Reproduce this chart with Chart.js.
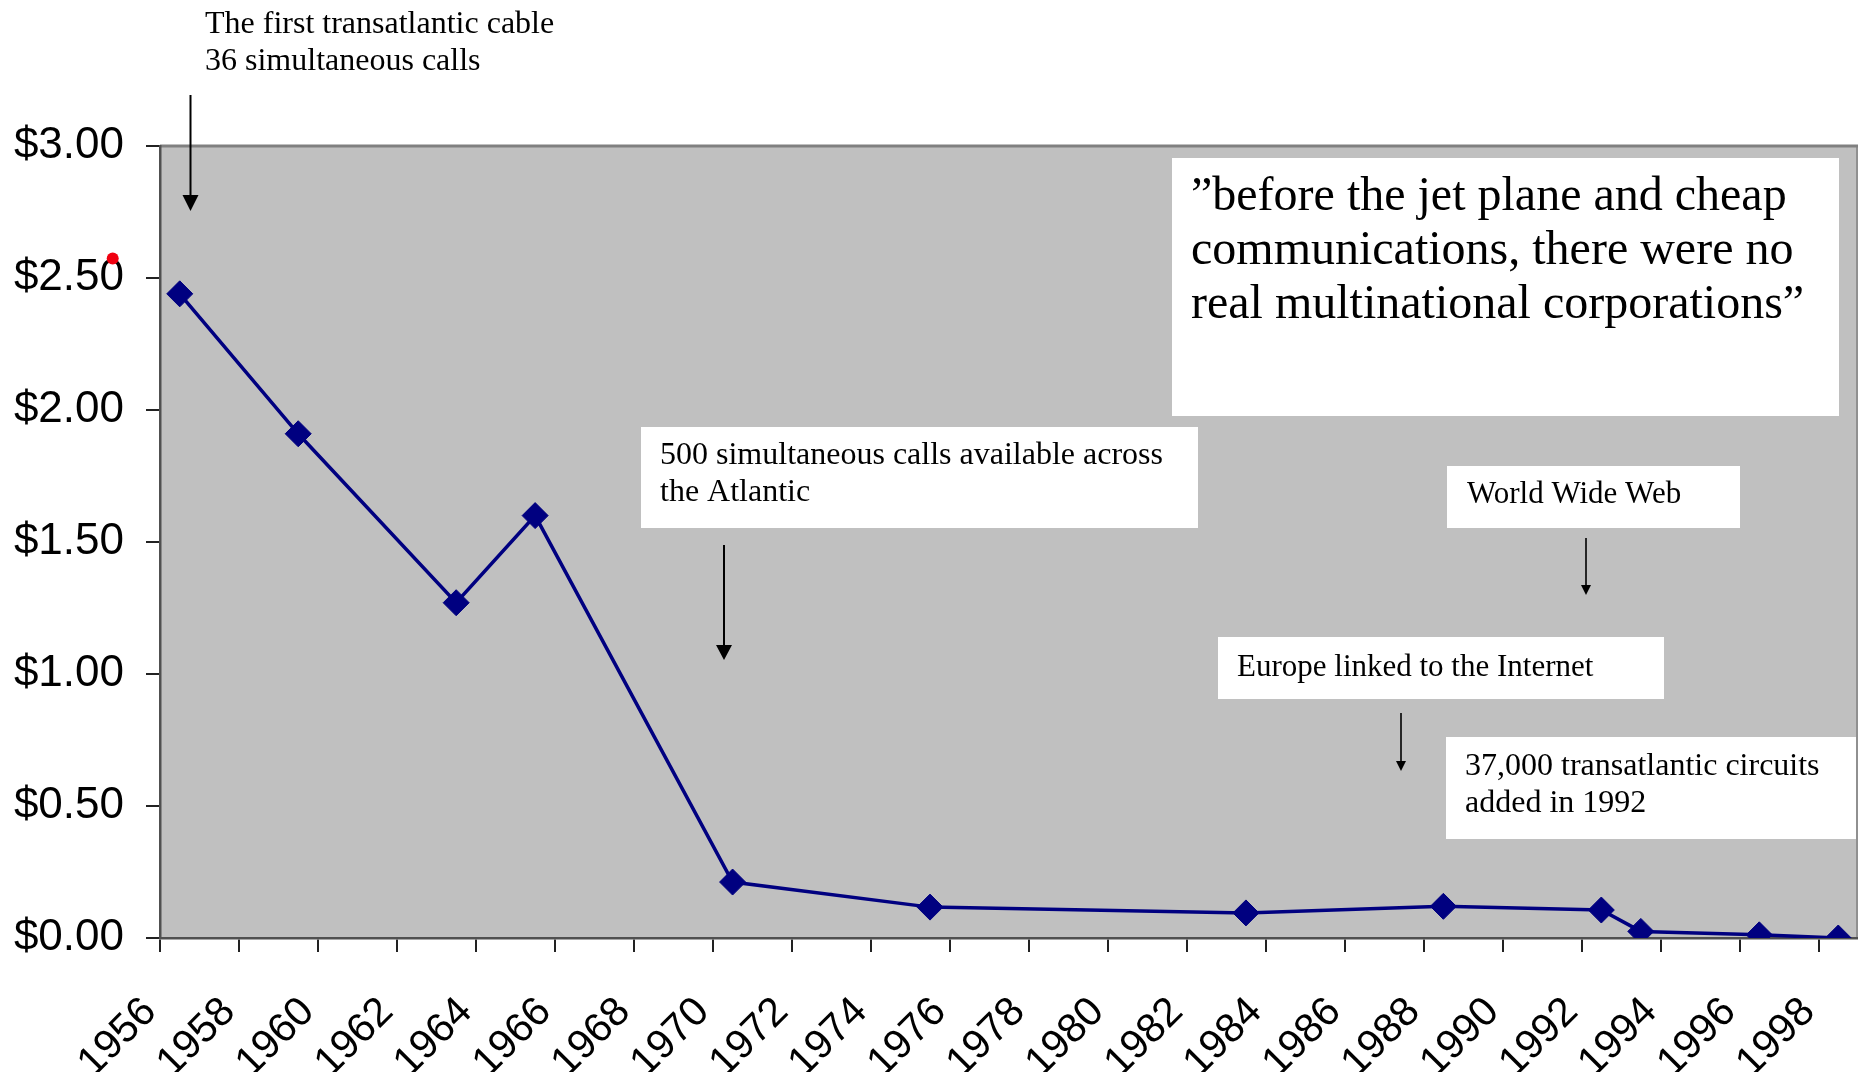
<!DOCTYPE html>
<html lang="en">
<head>
    <meta charset="UTF-8">
    <title>Cost of a transatlantic call</title>
    <script src="https://cdn.jsdelivr.net/npm/chart.js"></script>
    <style>
        html, body { margin: 0; padding: 0; background: #fff; }
        #chart-box { width: 1858px; height: 1072px; }
    </style>
</head>
<body>
    <div id="chart-box"><canvas id="costChart" width="1858" height="1072"></canvas></div>

    <script>
        // cost per call (points sit mid-year)
        const years = [1956.5, 1959.5, 1963.5, 1965.5, 1970.5, 1975.5, 1983.5, 1988.5, 1992.5, 1993.5, 1996.5, 1998.5];
        const costs = [2.44, 1.91, 1.27, 1.60, 0.212, 0.117, 0.095, 0.12, 0.106, 0.025, 0.012, 0.0];

        const xTickYears = [1956, 1958, 1960, 1962, 1964, 1966, 1968, 1970, 1972, 1974, 1976,
                            1978, 1980, 1982, 1984, 1986, 1988, 1990, 1992, 1994, 1996, 1998];
        const yTickValues = [0, 0.5, 1, 1.5, 2, 2.5, 3];

        // text notes and arrows laid over the chart (canvas pixels)
        const notes = [
            { lines: ['The first transatlantic cable', '36 simultaneous calls'], x: 205, y: 33, size: 32, lead: 37 },
            { lines: ['\u201dbefore the jet plane and cheap', 'communications, there were no', 'real multinational corporations\u201d'],
              x: 1191, y: 210, size: 48, lead: 54, box: [1172, 158, 1839, 416] },
            { lines: ['500 simultaneous calls available across', 'the Atlantic'], x: 660, y: 464, size: 32, lead: 37, box: [641, 427, 1198, 528] },
            { lines: ['World Wide Web'], x: 1467, y: 503, size: 31, lead: 37, box: [1447, 466, 1740, 528] },
            { lines: ['Europe linked to the Internet'], x: 1237, y: 676, size: 31, lead: 37, box: [1218, 637, 1664, 699] },
            { lines: ['37,000 transatlantic circuits', 'added in 1992'], x: 1465, y: 775, size: 32, lead: 37, box: [1446, 737, 1856, 839] }
        ];
        const arrows = [
            { x: 190.5, y0: 95, y1: 211, half: 8, len: 16 },
            { x: 724, y0: 545, y1: 660, half: 8, len: 15 },
            { x: 1586, y0: 538, y1: 595, half: 5, len: 10 },
            { x: 1401, y0: 713, y1: 771, half: 5, len: 10 }
        ];

        const plotBackdrop = {
            id: 'plotBackdrop',
            beforeDraw(chart) {
                const { ctx, chartArea: a } = chart;
                ctx.save();
                ctx.fillStyle = '#c0c0c0';
                ctx.fillRect(a.left, a.top, a.right - a.left, a.bottom - a.top);
                ctx.strokeStyle = '#808080';
                ctx.lineWidth = 3;
                ctx.beginPath();
                ctx.moveTo(a.left, a.top);
                ctx.lineTo(a.right, a.top);
                ctx.stroke();
                ctx.lineWidth = 1.5;
                ctx.beginPath();
                ctx.moveTo(a.right - 1, a.top);
                ctx.lineTo(a.right - 1, a.bottom);
                ctx.stroke();
                ctx.restore();
            }
        };

        const noteLayer = {
            id: 'noteLayer',
            afterDraw(chart) {
                const ctx = chart.ctx;
                ctx.save();
                notes.forEach(n => {
                    if (n.box) {
                        ctx.fillStyle = '#fff';
                        ctx.fillRect(n.box[0], n.box[1], n.box[2] - n.box[0], n.box[3] - n.box[1]);
                    }
                    ctx.fillStyle = '#000';
                    ctx.font = n.size + 'px "Liberation Serif", "Times New Roman", serif';
                    ctx.textAlign = 'left';
                    ctx.textBaseline = 'alphabetic';
                    n.lines.forEach((t, i) => ctx.fillText(t, n.x, n.y + i * n.lead));
                });

                ctx.strokeStyle = '#000';
                ctx.fillStyle = '#000';
                arrows.forEach(ar => {
                    ctx.lineWidth = ar.half > 6 ? 2 : 1.6;
                    ctx.beginPath();
                    ctx.moveTo(ar.x, ar.y0);
                    ctx.lineTo(ar.x, ar.y1 - ar.len + 2);
                    ctx.stroke();
                    ctx.beginPath();
                    ctx.moveTo(ar.x - ar.half, ar.y1 - ar.len);
                    ctx.lineTo(ar.x + ar.half, ar.y1 - ar.len);
                    ctx.lineTo(ar.x, ar.y1);
                    ctx.closePath();
                    ctx.fill();
                });

                // stray red dot next to the $2.50 label in the original
                ctx.fillStyle = '#f00010';
                ctx.beginPath();
                ctx.arc(112.7, 258.5, 6, 0, Math.PI * 2);
                ctx.fill();
                ctx.restore();
            }
        };

        function drawChart() {
            const ctx = document.getElementById('costChart').getContext('2d');
            new Chart(ctx, {
                type: 'line',
                data: {
                    datasets: [{
                        label: 'Cost',
                        data: years.map((yr, i) => ({ x: yr, y: costs[i] })),
                        borderColor: '#000080',
                        backgroundColor: '#000080',
                        borderWidth: 3.5,
                        tension: 0,
                        pointStyle: 'rectRot',
                        pointRadius: 13,
                        pointBorderWidth: 1,
                        pointBackgroundColor: '#000080',
                        pointBorderColor: '#000080'
                    }]
                },
                options: {
                    responsive: false,
                    devicePixelRatio: 1,
                    animation: false,
                    events: [],
                    layout: { autoPadding: false, padding: { top: 146, right: 0, bottom: 0, left: 0 } },
                    plugins: {
                        legend: { display: false },
                        tooltip: { enabled: false }
                    },
                    scales: {
                        x: {
                            type: 'linear',
                            min: 1956,
                            max: 1999,
                            afterBuildTicks: s => { s.ticks = xTickYears.map(v => ({ value: v })); },
                            afterFit: s => { s.height = 134; s.paddingLeft = 0; s.paddingRight = 0; },
                            ticks: {
                                autoSkip: false,
                                minRotation: 45,
                                maxRotation: 45,
                                padding: 36,
                                labelOffset: -10,
                                color: '#000',
                                font: { family: '"Liberation Sans", Arial, sans-serif', size: 41 },
                                callback: v => String(v)
                            },
                            grid: { drawOnChartArea: false, tickLength: 14, color: '#222', lineWidth: 2 },
                            border: { color: '#505050', width: 2.5 }
                        },
                        y: {
                            min: 0,
                            max: 3,
                            afterBuildTicks: s => { s.ticks = yTickValues.map(v => ({ value: v })); },
                            afterFit: s => { s.width = 160; },
                            ticks: {
                                padding: 22,
                                color: '#000',
                                font: { family: '"Liberation Sans", Arial, sans-serif', size: 44 },
                                callback: v => '$' + Number(v).toFixed(2)
                            },
                            grid: { drawOnChartArea: false, tickLength: 14, color: '#222', lineWidth: 2 },
                            border: { color: '#505050', width: 2.5 }
                        }
                    }
                },
                plugins: [plotBackdrop, noteLayer]
            });
        }

        Promise.all([
            document.fonts.load('32px "Liberation Serif"'),
            document.fonts.load('40px "Liberation Sans"')
        ]).then(drawChart, drawChart);
    </script>
</body>
</html>
